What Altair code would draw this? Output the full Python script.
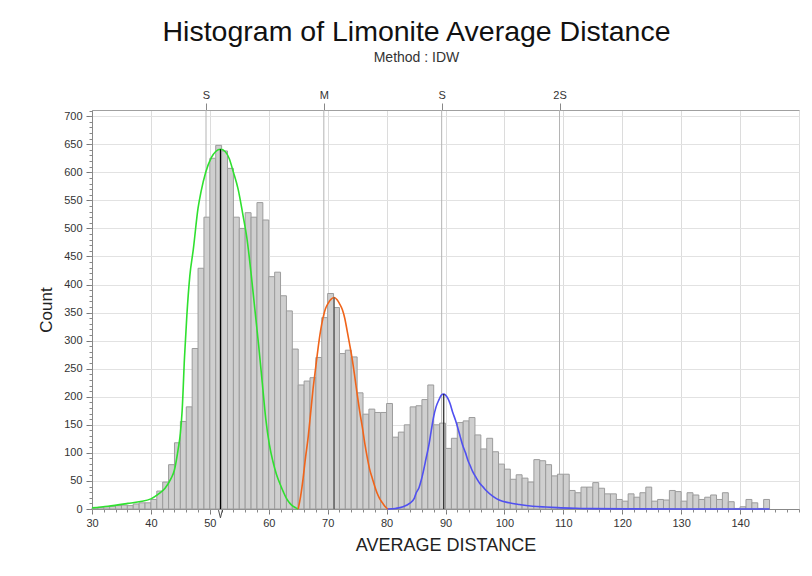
import altair as alt
import pandas as pd

# ---- histogram data (bin width 1) ----
bin_start = list(range(30, 145))
counts = [2, 3, 4, 5, 6, 7, 6, 9, 11, 11,
          17, 32, 48, 79, 118, 156, 182, 286, 429, 520,
          625, 648, 638, 607, 520, 500, 528, 520, 546, 515,
          414, 422, 380, 353, 285, 221, 228, 234, 270, 341,
          384, 359, 277, 283, 271, 207, 169, 178, 172, 172,
          188, 128, 137, 150, 182, 184, 195, 221, 150, 153,
          108, 126, 154, 157, 163, 132, 107, 126, 102, 80,
          71, 53, 61, 55, 48, 88, 86, 79, 59, 62,
          62, 33, 29, 39, 39, 47, 37, 27, 27, 17,
          14, 27, 21, 29, 39, 14, 17, 16, 33, 31,
          14, 29, 25, 17, 21, 25, 17, 29, 13, 1,
          4, 17, 11, 1, 17]

# ---- fitted curves ----
green_x = [30, 32.7, 36.1, 38, 40, 41.2, 42.4, 43.4, 44.0, 44.6, 45.0, 45.3, 45.7, 46.1, 46.6,
           47.2, 48.0, 48.5, 49.3, 50.3, 51.0, 51.8, 52.6, 53.3, 54.0, 54.8, 55.6, 56.3, 57.0,
           57.6, 58.3, 58.9, 59.5, 60.1, 60.7, 61.3, 61.9, 62.5, 63.0, 63.6, 64.1, 64.6, 65.0]
green_y = [2, 5, 10, 13, 18, 26, 37, 54, 70, 105, 135, 175, 270, 345, 415,
           463, 536, 565, 600, 627, 637, 641, 637, 624, 600, 570, 525, 482, 420,
           360, 290, 225, 160, 115, 85, 62, 45, 30, 19, 10, 5, 2, 0]

orange_x = [65.0, 65.4, 65.8, 66.2, 66.7, 67.1, 67.5, 68.0, 68.4, 68.8, 69.2, 69.6, 70.1, 70.6,
            71.1, 71.6, 72.0, 72.5, 72.9, 73.3, 73.7, 74.2, 74.6, 75.0, 75.4, 75.9, 76.3, 76.7,
            77.1, 77.6, 78.0, 78.4, 78.8, 79.3, 79.7, 80.2]
orange_y = [0, 22, 52, 88, 129, 170, 212, 255, 289, 318, 340, 356, 367, 374,
            377, 373, 366, 355, 340, 318, 295, 265, 236, 205, 176, 145, 117, 93,
            72, 54, 40, 28, 19, 11, 5, 0]

blue_x = [80.2, 81.5, 82.8, 83.9, 84.7, 85.0, 85.5, 85.9, 86.3, 86.7, 87.2, 87.6, 88.0, 88.4,
          88.9, 89.3, 89.7, 90.0, 90.4, 90.8, 91.2, 91.7, 92.1, 92.5, 92.9, 93.4, 93.8, 94.2,
          94.6, 95.2, 95.8, 96.4, 96.9, 98.0, 99.1, 100.8, 102.5, 104.8, 107, 109, 112, 114.7,
          120.4, 130, 140, 145]
blue_y = [0, 1, 4, 10, 19, 28, 38, 52, 70, 90, 115, 141, 165, 182,
          195, 203, 205, 203, 197, 187, 173, 158, 144, 129, 114, 100, 87, 77,
          67, 56, 46, 39, 33, 23, 16, 11, 8, 5, 3.5, 2.4, 1.3, 0.6,
          0.2, 0.1, 0, 0]

# ---- peak markers and statistics ----
peak_x = [51.8, 71.1, 89.7]
peak_y = [641, 377, 205]
peak_name = ["g", "o", "b"]
peak_colors = ["#000000", "#555555", "#222222"]

stat_x = [49.35, 69.35, 89.35, 109.35]

x_major = list(range(30, 150, 10))
x_minor = list(range(30, 151, 2))
y_major = list(range(0, 701, 50))
y_minor = list(range(0, 711, 10))

FONT = "Liberation Sans"

bars_df = pd.DataFrame({"start": bin_start, "end": [b + 1 for b in bin_start], "count": counts,
                        "base": [0] * len(bin_start)})
green_df = pd.DataFrame({"x": green_x, "y": green_y})
orange_df = pd.DataFrame({"x": orange_x, "y": orange_y})
blue_df = pd.DataFrame({"x": blue_x, "y": blue_y})
peak_df = pd.DataFrame({"x": peak_x, "y": peak_y, "name": peak_name, "base": [0, 0, 0]})
stat_df = pd.DataFrame({"x": stat_x})

xs = alt.Scale(domain=[30, 150], nice=False, zero=False)
ys = alt.Scale(domain=[0, 711], nice=False, zero=True)

# statistic lines + top axis
stats = alt.Chart(stat_df).mark_rule(color="#b4b4b4", strokeWidth=1).encode(
    x=alt.X("x:Q", scale=xs, axis=alt.Axis(
        orient="top", values=stat_x, title=None, grid=False, labelFlush=False,
        labelExpr="datum.value < 60 ? 'S' : datum.value < 80 ? 'M' : datum.value < 100 ? 'S' : '2S'",
        labelFont=FONT, labelFontSize=11, labelColor="#333333", labelPadding=3,
        tickSize=7, tickColor="#888888", domainColor="#a0a0a0")),
    y=alt.value(0),
    y2=alt.value(399),
)

bars = alt.Chart(bars_df).mark_rect(fill="#cfcfcf", stroke="#9c9c9c", strokeWidth=1).encode(
    x=alt.X("start:Q", scale=xs, axis=alt.Axis(
        orient="bottom", values=x_major, title="AVERAGE DISTANCE", labelFlush=False,
        grid=True, gridColor="#dcdcdc", gridWidth=1,
        labelFont=FONT, labelFontSize=11, labelColor="#333333", labelPadding=3,
        tickSize=5, tickColor="#777777", domainColor="#888888",
        titleFont=FONT, titleFontSize=18, titleFontWeight="normal", titleColor="#222222",
        titlePadding=8)),
    x2="end:Q",
    y=alt.Y("count:Q", scale=ys, axis=alt.Axis(
        orient="left", values=y_major, title="Count", labelFlush=False,
        grid=True, gridColor="#e2e2e2", gridWidth=1,
        labelFont=FONT, labelFontSize=11, labelColor="#333333", labelPadding=4,
        tickSize=6, tickColor="#777777", domainColor="#888888",
        titleFont=FONT, titleFontSize=17, titleFontWeight="normal", titleColor="#222222",
        titlePadding=8)),
    y2="base:Q",
)

green = alt.Chart(green_df).mark_line(color="#2fe02f", strokeWidth=1.6, interpolate="monotone").encode(
    x=alt.X("x:Q", scale=xs, axis=alt.Axis(
        orient="bottom", values=x_minor, labels=False, title=None, grid=False,
        domain=False, tickSize=3, tickColor="#888888")),
    y=alt.Y("y:Q", scale=ys, axis=alt.Axis(
        orient="left", values=y_minor, labels=False, title=None, grid=False,
        domain=False, tickSize=3, tickColor="#888888")),
)

orange = alt.Chart(orange_df).mark_line(color="#f0641a", strokeWidth=1.6, interpolate="monotone").encode(
    x=alt.X("x:Q", scale=xs, axis=None),
    y=alt.Y("y:Q", scale=ys, axis=None),
)

blue = alt.Chart(blue_df).mark_line(color="#5050f0", strokeWidth=1.6, interpolate="monotone").encode(
    x=alt.X("x:Q", scale=xs, axis=None),
    y=alt.Y("y:Q", scale=ys, axis=None),
)

peaks = alt.Chart(peak_df).mark_rule(strokeWidth=1.2).encode(
    x=alt.X("x:Q", scale=xs, axis=None),
    y=alt.Y("y:Q", scale=ys, axis=None),
    y2="base:Q",
    color=alt.Color("name:N", scale=alt.Scale(domain=peak_name, range=peak_colors), legend=None),
)

marker_df = peak_df.iloc[:1]
marker = alt.Chart(marker_df).mark_point(
    shape="M-0.5,-1L0,1L0.5,-1", filled=False, stroke="#000000", strokeWidth=1, size=60, yOffset=5
).encode(
    x=alt.X("x:Q", scale=xs, axis=None),
    y=alt.Y("base:Q", scale=ys, axis=None),
)

chart = alt.layer(stats, bars, green, orange, blue, peaks, marker).resolve_axis(
    x="independent", y="independent"
).properties(
    width=707,
    height=399,
    autosize=alt.AutoSizeParams(type="none"),
    padding={"left": 84, "top": 102, "right": 2, "bottom": 56},
    title=alt.TitleParams(
        text="Histogram of Limonite Average Distance",
        subtitle="Method : IDW",
        font=FONT, fontSize=28.5, fontWeight="normal", color="#111111",
        subtitleFont=FONT, subtitleFontSize=14, subtitleColor="#333333",
        anchor="middle", dx=-29, offset=24, subtitlePadding=5,
    ),
).configure_view(stroke=None).configure(background="white")

chart.save("out.html", embed_options={"renderer": "svg", "actions": False})
